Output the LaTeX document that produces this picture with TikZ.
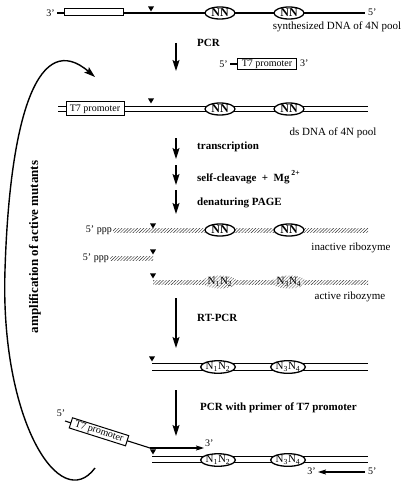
\documentclass[tikz,border=0pt]{standalone}
\usepackage{fontspec}
\setmainfont{Liberation Serif}
\usetikzlibrary{arrows.meta,patterns.meta,shapes.geometric}

\begin{document}
\begin{tikzpicture}[x=1pt,y=-1pt]
\tikzstyle{every node}=[inner sep=0pt, font=\fontsize{11}{13}\selectfont]
\tikzstyle{strand}=[line width=1.1pt]
\tikzstyle{dsline}=[line width=1.1pt, double distance=4.5pt]
\tikzstyle{rna}=[pattern={Lines[angle=45,distance=2.2pt,line width=0.45pt]}, pattern color=black!80]
\tikzstyle{nn}=[ellipse, draw, line width=1.3pt, fill=white, minimum width=30pt, minimum height=12pt, font=\fontsize{12}{12}\selectfont\bfseries]
\tikzstyle{nnplain}=[ellipse, draw, line width=1.3pt, fill=white, minimum width=30pt, minimum height=12pt, font=\fontsize{11}{11}\selectfont]
\tikzstyle{nnhatch}=[ellipse, pattern={Lines[angle=45,distance=2.2pt,line width=0.4pt]}, pattern color=black!60, minimum width=30pt, minimum height=13pt, font=\fontsize{11}{11}\selectfont]
\tikzstyle{pbox}=[rectangle, draw, line width=1pt, fill=white, minimum width=59pt, minimum height=8pt, inner sep=1pt, font=\fontsize{10}{10}\selectfont]
\tikzstyle{cleave}=[isosceles triangle, shape border rotate=-90, fill, minimum height=5pt, minimum width=6pt, isosceles triangle stretches, anchor=apex, inner sep=0pt]
\tikzstyle{flow}=[line width=1.2pt, -{Stealth[length=11pt,width=7pt,inset=2pt]}]
\tikzstyle{flowsmall}=[line width=1.1pt, -{Stealth[length=8pt,width=5pt,inset=1.5pt]}]
\tikzstyle{steplabel}=[anchor=west, font=\fontsize{11}{13}\selectfont\bfseries]
\tikzstyle{prime}=[font=\fontsize{10}{10}\selectfont]

\useasboundingbox (0,0) rectangle (404,484);

% synthesized single strand
\coordinate (t1) at (57,13);
\coordinate (t2) at (365,13);
\draw[strand] (t1) -- (t2);
\node[prime, anchor=east] (t3p) at (55,13) {3'};
\node[prime, anchor=west] (t5p) at (368,12) {5'};
\node[pbox, minimum height=7pt] (tbox) at (93.5,12.5) {};
\node[cleave] (tcut) at (151,12) {};
\node[nn] (tn1) at (220,13) {NN};
\node[nn] (tn2) at (289,13) {NN};
\node (tlbl) at (337,27) {synthesized DNA of 4N pool};

% PCR
\coordinate (a1s) at (176,43);
\coordinate (a1e) at (176,71);
\draw[flow] (a1s) -- (a1e);
\node[steplabel] (pcr) at (197,43) {PCR};
\node[pbox] (primer) at (267,64) {T7 promoter};
\node[prime, anchor=east] (pr5) at (228,64) {5'};
\coordinate (pr0) at (230,64);
\draw[strand] (pr0) -- (primer.west);
\node[prime, anchor=west] (pr3) at (300,63) {3'};

% ds DNA
\coordinate (d1) at (58,109);
\coordinate (d2) at (368,109);
\draw[dsline] (d1) -- (d2);
\node[pbox, minimum height=14pt, minimum width=58pt] (dbox) at (95,109) {T7 promoter};
\node[cleave] (dcut) at (151,104) {};
\node[nn] (dn1) at (220,109) {NN};
\node[nn] (dn2) at (289,109) {NN};
\node (dlbl) at (333,133) {ds DNA of 4N pool};

% transcription, cleavage, gel
\coordinate (b1s) at (176,138);
\coordinate (b1e) at (176,159);
\draw[flow] (b1s) -- (b1e);
\node[steplabel] (trans) at (197,147) {transcription};
\coordinate (c1s) at (176,165);
\coordinate (c1e) at (176,185);
\draw[flow] (c1s) -- (c1e);
\node[steplabel] (selfc) at (197,177) {self-cleavage~~+~~Mg\,\raisebox{1.5pt}{\textsuperscript{2+}}};
\coordinate (e1s) at (176,190);
\coordinate (e1e) at (176,214);
\draw[flow] (e1s) -- (e1e);
\node[steplabel] (page) at (197,203) {denaturing PAGE};

% inactive ribozyme
\coordinate (r1a) at (113,228);
\coordinate (r1b) at (368,232);
\path[rna] (r1a) rectangle (r1b);
\node[prime, anchor=east] (r1p) at (112,230) {5' ppp};
\node[cleave] (r1cut) at (153,229) {};
\node[nn] (r1n1) at (220,230) {NN};
\node[nn] (r1n2) at (289,230) {NN};
\node (r1lbl) at (351,248) {inactive ribozyme};

% cleaved fragment
\coordinate (r2a) at (110,256);
\coordinate (r2b) at (153,260);
\path[rna] (r2a) rectangle (r2b);
\node[prime, anchor=east] (r2p) at (109,258) {5' ppp};
\node[cleave] (r2cut) at (153,255) {};

% active ribozyme
\coordinate (r3a) at (153,280);
\coordinate (r3b) at (368,284);
\path[rna] (r3a) rectangle (r3b);
\node[cleave] (r3cut) at (153,279) {};
\path[fill=white] (220,282) ellipse (15pt and 6.5pt) (289,282) ellipse (15pt and 6.5pt);
\node[nnhatch] (r3n1) at (220,282) {N\textsubscript{1}N\textsubscript{2}};
\node[nnhatch] (r3n2) at (289,282) {N\textsubscript{3}N\textsubscript{4}};
\node (r3lbl) at (350,297) {active ribozyme};

% RT-PCR
\coordinate (f1s) at (176,298);
\coordinate (f1e) at (176,348);
\draw[flow] (f1s) -- (f1e);
\node[steplabel] (rtpcr) at (197,318) {RT-PCR};
\coordinate (g1) at (152,367);
\coordinate (g2) at (368,367);
\draw[dsline, double distance=6.5pt] (g1) -- (g2);
\node[cleave] (gcut) at (152,362) {};
\node[nnplain] (gn1) at (218,367) {N\textsubscript{1}N\textsubscript{2}};
\node[nnplain] (gn2) at (288,367) {N\textsubscript{3}N\textsubscript{4}};

% PCR with T7 primer
\coordinate (h1s) at (176,390);
\coordinate (h1e) at (176,436);
\draw[flow] (h1s) -- (h1e);
\node[steplabel] (pcr2) at (200,408) {PCR with primer of T7 promoter};
\coordinate (q0) at (65,421);
\coordinate (q1) at (150,448);
\coordinate (q2) at (204,448);
\draw[strand] (q0) -- (q1);
\node[pbox, rotate=-17.6, minimum height=9pt] (qbox) at (99,431.8) {T7 promoter};
\node[prime] (q5p) at (61,413) {5'};
\draw[flowsmall] (q1) -- (q2);
\node[prime, anchor=west] (q3p) at (205,443) {3'};
\coordinate (k1) at (152,459.5);
\coordinate (k2) at (368,459.5);
\draw[dsline, double distance=5.5pt] (k1) -- (k2);
\node[cleave] (kcut) at (153,455) {};
\node[nnplain] (kn1) at (218,460) {N\textsubscript{1}N\textsubscript{2}};
\node[nnplain] (kn2) at (288,460) {N\textsubscript{3}N\textsubscript{4}};
\coordinate (m1) at (365,472);
\coordinate (m2) at (318,472);
\draw[flowsmall] (m1) -- (m2);
\node[prime, anchor=east] (m3p) at (316,471) {3'};
\node[prime, anchor=west] (m5p) at (368,471) {5'};

% amplification loop
\coordinate (l0) at (95,468);
\coordinate (l1) at (5,270);
\coordinate (l2) at (95,77);
\draw[line width=1.4pt, -{Stealth[length=11pt,width=7pt,inset=2pt]}]
  (l0) .. controls (60,515) and (0,420) .. (l1) .. controls (10,110) and (40,30) .. (l2);
\node[rotate=90, font=\fontsize{13}{13}\selectfont\bfseries] (amp) at (35,247) {amplification of active mutants};
\end{tikzpicture}
\end{document}
